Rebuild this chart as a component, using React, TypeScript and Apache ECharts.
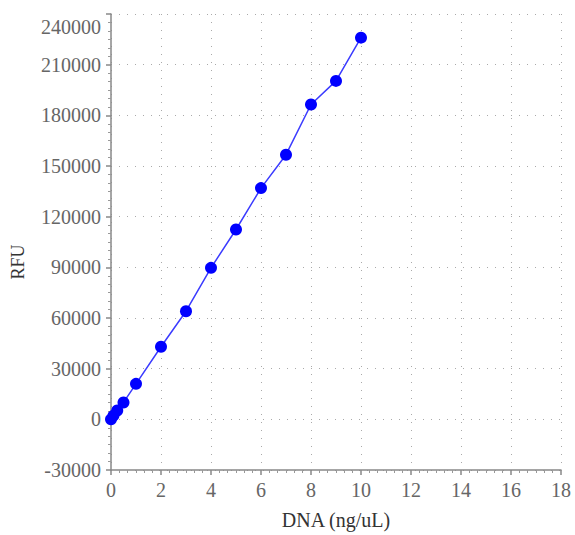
import React, { useEffect, useRef } from "react";
import * as echarts from "echarts";

const dnaConc = [0, 0.1, 0.25, 0.5, 1, 2, 3, 4, 5, 6, 7, 8, 9, 10];
const rfuValues = [0, 2200, 5200, 10000, 21000, 43000, 64000, 89700, 112400, 136900, 156700, 186400, 200400, 226000];
const xTicks = { min: 0, max: 18, interval: 2 };
const yTicks = { min: -30000, max: 240000, interval: 30000 };
const xName = "DNA (ng/uL)";
const yName = "RFU";

export default function App() {
  const ref = useRef<HTMLDivElement>(null);
  useEffect(() => {
    if (!ref.current) return;
    const chart = echarts.init(ref.current, null, { renderer: "svg" });
    const font = "'Liberation Serif', 'Times New Roman', serif";
    const axisCommon = {
      axisLine: { show: true, onZero: false, lineStyle: { color: "#888", width: 1.5 } },
      axisTick: { show: true, length: 5, lineStyle: { color: "#888", width: 1.5 } },
      minorTick: { show: true, splitNumber: 6, length: 3, lineStyle: { color: "#999", width: 1 } },
      splitLine: { show: true, lineStyle: { color: "#aaa", type: [1, 7], width: 1 } },
    };
    const labelStyle = { color: "#666", fontFamily: font, fontSize: 20 };
    chart.setOption({
      animation: false,
      grid: { left: 111, right: 14, top: 14, bottom: 57, containLabel: false },
      xAxis: {
        type: "value",
        ...xTicks,
        name: xName,
        nameLocation: "middle",
        nameGap: 40,
        nameTextStyle: { color: "#333", fontFamily: font, fontSize: 20 },
        ...axisCommon,
        axisLabel: { ...labelStyle, margin: 10, formatter: (v: number) => String(v) },
      },
      yAxis: {
        type: "value",
        ...yTicks,
        name: "",
        ...axisCommon,
        axisLabel: {
          ...labelStyle,
          margin: 10,
          formatter: (v: number) => (v === yTicks.max ? `{top|${v}}` : String(v)),
          rich: { top: { ...labelStyle, padding: [26, 0, 0, 0] } },
        },
      },
      graphic: [
        {
          type: "text",
          x: 18,
          y: 262,
          rotation: Math.PI / 2,
          style: { text: yName, fill: "#333", font: `18px ${font}`, align: "center", verticalAlign: "middle" },
        },
      ],
      series: [
        {
          type: "line",
          data: dnaConc.map((x, i) => [x, rfuValues[i]]),
          symbol: "circle",
          symbolSize: 12,
          lineStyle: { color: "#3b3bff", width: 1.5 },
          itemStyle: { color: "#0000ff" },
        },
      ],
    });
    return () => chart.dispose();
  }, []);
  return <div ref={ref} style={{ width: 575, height: 535, position: "absolute", left: 0, top: 0 }} />;
}
